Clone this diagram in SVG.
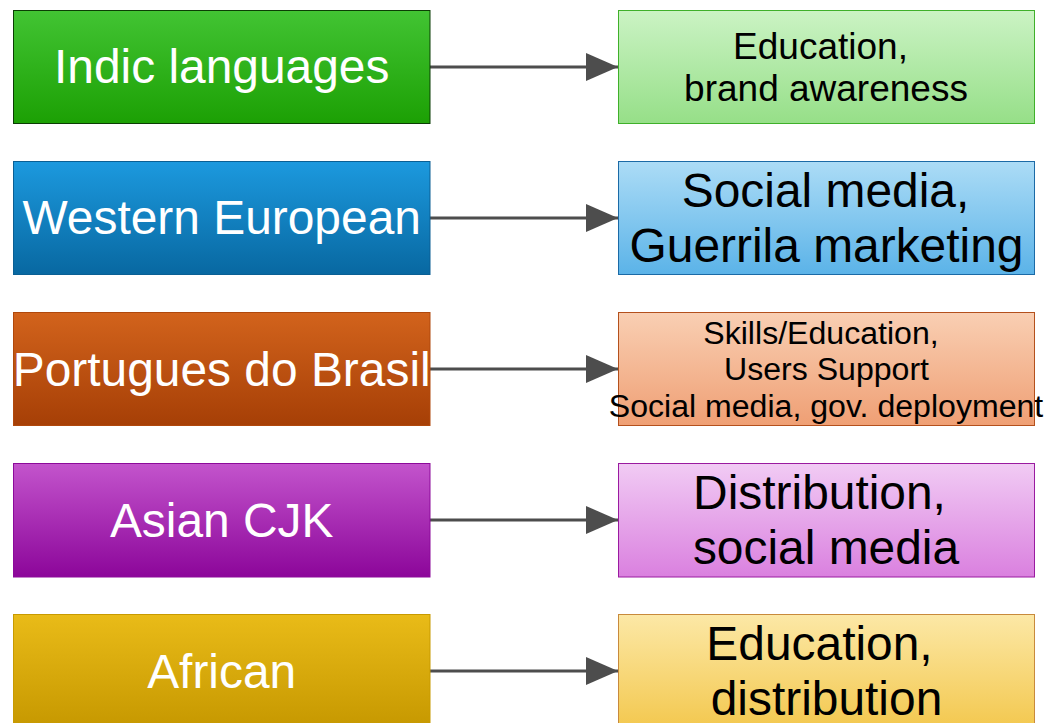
<svg xmlns="http://www.w3.org/2000/svg" width="1045" height="723" viewBox="0 0 1045 723">
<style>
.lt{font-family:"Liberation Sans",Arial,sans-serif;font-size:47.9px;fill:#ffffff;text-anchor:middle}
.rt{font-family:"Liberation Sans",Arial,sans-serif;fill:#000000;text-anchor:middle}
.conn{stroke:#4d4d4d;stroke-width:3;fill:none}
</style>
<defs>
<linearGradient id="g1l" x1="0" y1="0" x2="0" y2="1"><stop offset="0" stop-color="#42c433"/><stop offset="1" stop-color="#1ca004"/></linearGradient>
<linearGradient id="g1r" x1="0" y1="0" x2="0" y2="1"><stop offset="0" stop-color="#cbf3c4"/><stop offset="1" stop-color="#96df88"/></linearGradient>
<linearGradient id="g2l" x1="0" y1="0" x2="0" y2="1"><stop offset="0" stop-color="#1c99de"/><stop offset="1" stop-color="#0868a1"/></linearGradient>
<linearGradient id="g2r" x1="0" y1="0" x2="0" y2="1"><stop offset="0" stop-color="#acdcf6"/><stop offset="1" stop-color="#5bb3e8"/></linearGradient>
<linearGradient id="g3l" x1="0" y1="0" x2="0" y2="1"><stop offset="0" stop-color="#d2631c"/><stop offset="1" stop-color="#a63f06"/></linearGradient>
<linearGradient id="g3r" x1="0" y1="0" x2="0" y2="1"><stop offset="0" stop-color="#f9cfb3"/><stop offset="1" stop-color="#ef9f74"/></linearGradient>
<linearGradient id="g4l" x1="0" y1="0" x2="0" y2="1"><stop offset="0" stop-color="#c354cc"/><stop offset="1" stop-color="#8c069a"/></linearGradient>
<linearGradient id="g4r" x1="0" y1="0" x2="0" y2="1"><stop offset="0" stop-color="#f1cbf4"/><stop offset="1" stop-color="#da80df"/></linearGradient>
<linearGradient id="g5l" x1="0" y1="0" x2="0" y2="1"><stop offset="0" stop-color="#e9bb18"/><stop offset="1" stop-color="#c69800"/></linearGradient>
<linearGradient id="g5r" x1="0" y1="0" x2="0" y2="1"><stop offset="0" stop-color="#fce8a6"/><stop offset="1" stop-color="#f3c84f"/></linearGradient>
<marker id="ah" viewBox="0 0 32 28" refX="32" refY="14" markerWidth="32" markerHeight="28" markerUnits="userSpaceOnUse" orient="auto">
<path d="M0,0 L32,14 L0,28 Z" fill="#4d4d4d"/>
</marker>
</defs>
<g id="connectors">
<line class="conn" x1="430" y1="67" x2="618" y2="67" marker-end="url(#ah)"/>
<line class="conn" x1="430" y1="218" x2="618" y2="218" marker-end="url(#ah)"/>
<line class="conn" x1="430" y1="369" x2="618" y2="369" marker-end="url(#ah)"/>
<line class="conn" x1="430" y1="520" x2="618" y2="520" marker-end="url(#ah)"/>
<line class="conn" x1="430" y1="671" x2="618" y2="671" marker-end="url(#ah)"/>
</g>
<g id="indic">
<rect x="13.5" y="10.5" width="416.5" height="113" fill="url(#g1l)" stroke="#0b3d04" stroke-width="1"/>
<text class="lt" x="221.7" y="83">Indic languages</text>
</g>
<g id="indic-target">
<rect x="618.5" y="10.5" width="416" height="113" fill="url(#g1r)" stroke="#3fb02a" stroke-width="1"/>
<text class="rt" font-size="37" x="820.5" y="58.5">Education,</text>
<text class="rt" font-size="37" x="826" y="100.5">brand awareness</text>
</g>
<g id="western">
<rect x="13.5" y="161.5" width="416.5" height="113" fill="url(#g2l)" stroke="#0a5f94" stroke-width="1"/>
<text class="lt" x="221.7" y="234">Western European</text>
</g>
<g id="western-target">
<rect x="618.5" y="161.5" width="416" height="113" fill="url(#g2r)" stroke="#1b6aa6" stroke-width="1"/>
<text class="rt" font-size="47.9" x="825.5" y="207">Social media,</text>
<text class="rt" font-size="47.9" x="826.5" y="262">Guerrila marketing</text>
</g>
<g id="brasil">
<rect x="13.5" y="312.5" width="416.5" height="113" fill="url(#g3l)" stroke="#b0480c" stroke-width="1"/>
<text class="lt" x="221.7" y="386">Portugues do Brasil</text>
</g>
<g id="brasil-target">
<rect x="618.5" y="312.5" width="416" height="113" fill="url(#g3r)" stroke="#b4501c" stroke-width="1"/>
<text class="rt" font-size="32.1" x="821" y="343.5">Skills/Education,</text>
<text class="rt" font-size="32.1" x="826.5" y="380">Users Support</text>
<text class="rt" font-size="32.1" x="826" y="416.5">Social media, gov. deployment</text>
</g>
<g id="asian">
<rect x="13.5" y="463.5" width="416.5" height="113.5" fill="url(#g4l)" stroke="#8c0a9a" stroke-width="1"/>
<text class="lt" x="221.7" y="537">Asian CJK</text>
</g>
<g id="asian-target">
<rect x="618.5" y="463.5" width="416" height="113.5" fill="url(#g4r)" stroke="#9a1aa0" stroke-width="1"/>
<text class="rt" font-size="47.9" x="819.5" y="509">Distribution,</text>
<text class="rt" font-size="47.9" x="826" y="564">social media</text>
</g>
<g id="african">
<rect x="13.5" y="614.5" width="416.5" height="113.5" fill="url(#g5l)" stroke="#c89a00" stroke-width="1"/>
<text class="lt" x="221.7" y="688">African</text>
</g>
<g id="african-target">
<rect x="618.5" y="614.5" width="416" height="113.5" fill="url(#g5r)" stroke="#c88a3c" stroke-width="1"/>
<text class="rt" font-size="47.9" x="819.5" y="660">Education,</text>
<text class="rt" font-size="47.9" x="826.5" y="715">distribution</text>
</g>
</svg>
